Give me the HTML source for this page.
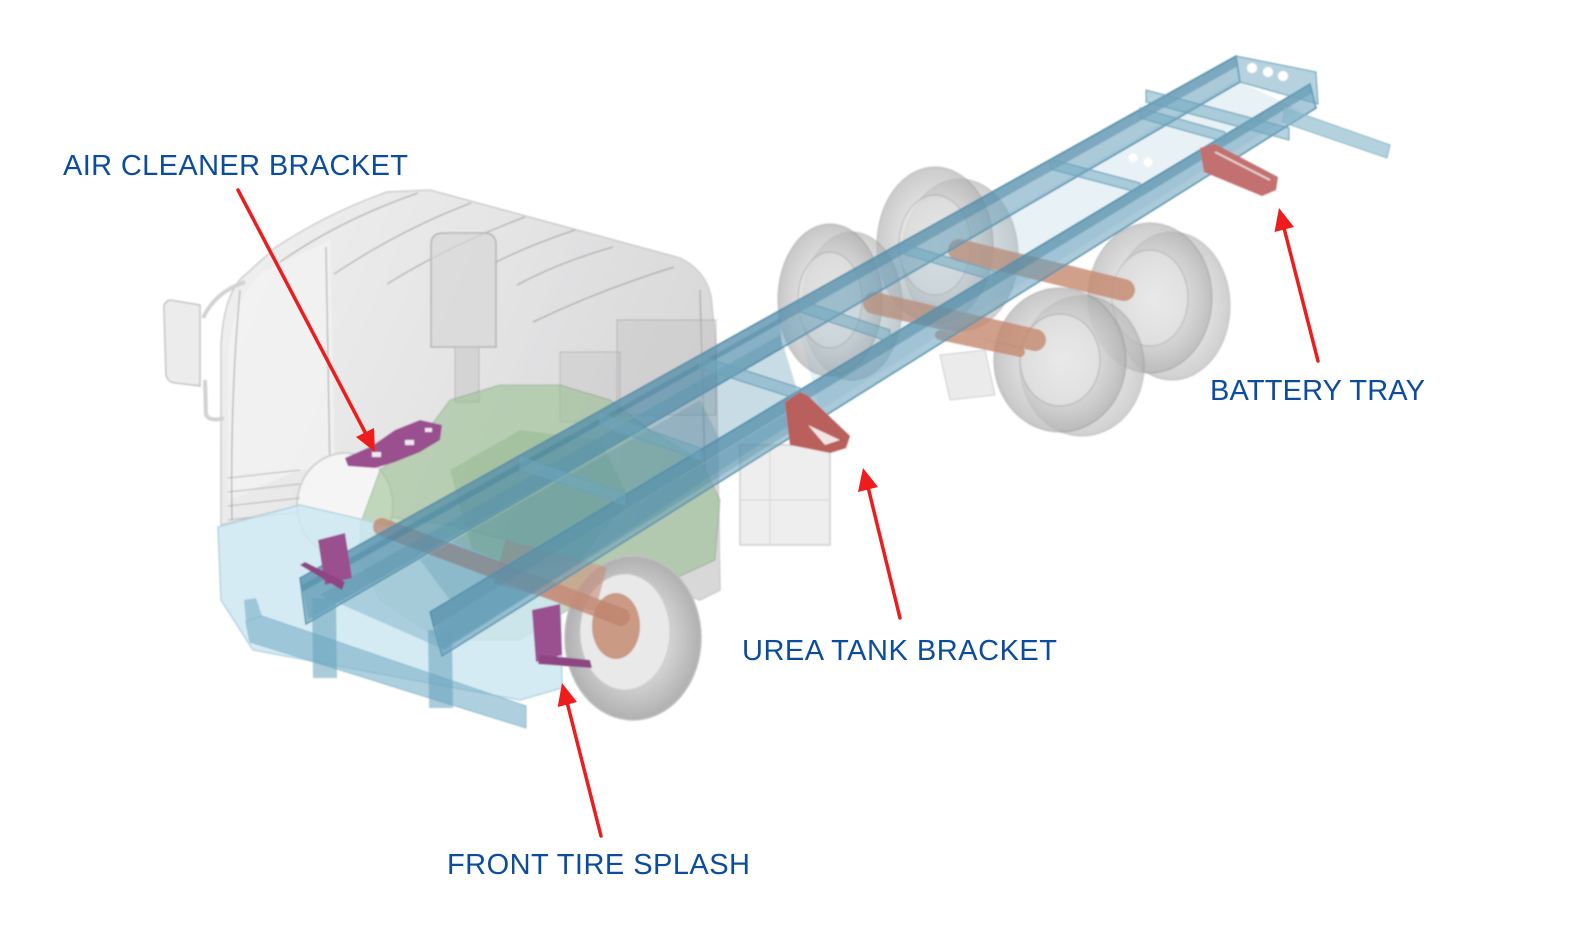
<!DOCTYPE html>
<html><head><meta charset="utf-8"><style>
html,body{margin:0;padding:0;background:#fff;}
svg{display:block}
.lbl{font-family:"Liberation Sans",sans-serif;font-size:29px;fill:#0b4c9e;}
</style></head><body>
<svg width="1574" height="928" viewBox="0 0 1574 928" xmlns="http://www.w3.org/2000/svg">
<defs>
<linearGradient id="cab" x1="0" y1="0" x2="1" y2="0.35">
 <stop offset="0" stop-color="#f0f0f0"/><stop offset="0.55" stop-color="#e4e4e5"/><stop offset="1" stop-color="#d8d8d9"/>
</linearGradient>
<radialGradient id="wh" cx="0.5" cy="0.5" r="0.5">
 <stop offset="0" stop-color="#e8e8e8"/><stop offset="0.55" stop-color="#d2d2d2"/><stop offset="1" stop-color="#b0b0b0"/>
</radialGradient>
<filter id="soft"><feGaussianBlur stdDeviation="0.8"/></filter>
</defs>
<rect width="1574" height="928" fill="#fff"/>

<g filter="url(#soft)">
<!-- rear wheels -->
<g stroke="rgba(130,130,130,0.5)" stroke-width="1.5">
 <ellipse cx="960" cy="255" rx="58" ry="76" fill="url(#wh)" opacity="0.6"/>
 <ellipse cx="935" cy="245" rx="58" ry="78" fill="url(#wh)" opacity="0.65"/>
 <ellipse cx="935" cy="245" rx="36" ry="50" fill="#e6e6e6" opacity="0.5"/>
 <ellipse cx="1172" cy="306" rx="58" ry="74" fill="url(#wh)" opacity="0.6"/>
 <ellipse cx="1150" cy="298" rx="62" ry="75" fill="url(#wh)" opacity="0.65"/>
 <ellipse cx="1150" cy="298" rx="38" ry="48" fill="#e9e9e9" opacity="0.5"/>
 <ellipse cx="852" cy="306" rx="50" ry="74" fill="url(#wh)" opacity="0.6"/>
 <ellipse cx="830" cy="300" rx="52" ry="76" fill="url(#wh)" opacity="0.7"/>
 <ellipse cx="830" cy="300" rx="32" ry="48" fill="#e3e3e3" opacity="0.55"/>
 <ellipse cx="1082" cy="366" rx="62" ry="70" fill="url(#wh)" opacity="0.6"/>
 <ellipse cx="1060" cy="360" rx="66" ry="72" fill="url(#wh)" opacity="0.7"/>
 <ellipse cx="1060" cy="360" rx="40" ry="46" fill="#e9e9e9" opacity="0.55"/>
</g>
<!-- rear suspension -->
<path d="M940,355 L985,350 L995,395 L950,400 Z" fill="rgba(230,230,230,0.8)" stroke="#cfcfcf"/>
<!-- rear axles copper -->
<g stroke="rgba(196,136,110,0.8)" stroke-linecap="round" fill="none">
 <line x1="959" y1="250" x2="1124" y2="290" stroke-width="22"/>
 <line x1="874" y1="303" x2="1035" y2="340" stroke-width="22"/>
 <line x1="940" y1="335" x2="1020" y2="352" stroke-width="10"/>
</g>

<!-- cab body -->
<path d="M221,525 L221,345 Q224,292 245,275 L276,247 Q330,212 387,192 L430,190 L680,258 Q705,270 711,296 L716,345 L720,590 L700,600 L600,565 L450,525 L300,505 Z" fill="url(#cab)" stroke="#cdcdcd" stroke-width="1.5"/>
<path d="M228,350 Q232,300 262,272 L330,240 L335,470 L300,470 L228,500 Z" fill="#f3f3f3" opacity="0.7"/>
<g stroke="rgba(110,110,110,0.45)" stroke-width="1.3" fill="none">
 <path d="M280,262 Q340,220 418,193"/>
 <path d="M334,274 Q400,230 471,203"/>
 <path d="M387,284 Q450,245 525,217"/>
 <path d="M494,263 Q530,245 575,230"/>
 <path d="M517,285 Q560,262 613,247"/>
 <path d="M533,322 Q600,290 674,267"/>
 <path d="M326,247 L330,473"/>
 <path d="M240,290 Q230,400 232,520"/>
 <path d="M700,290 L705,470"/>
</g>
<path d="M431,245 Q431,233 443,233 L484,233 Q496,233 496,245 L496,347 L431,347 Z" fill="rgba(215,215,215,0.7)" stroke="#b4b4b4" stroke-width="1.5"/>
<rect x="455" y="347" width="24" height="55" fill="rgba(205,205,205,0.7)" stroke="#bbb"/>
<rect x="617" y="320" width="99" height="95" fill="rgba(190,190,190,0.35)" stroke="rgba(140,140,140,0.45)"/>
<rect x="560" y="352" width="60" height="70" fill="rgba(190,190,190,0.3)" stroke="rgba(140,140,140,0.4)"/>
<!-- mirror -->
<path d="M203,318 Q215,292 245,282" stroke="#d2d2d2" stroke-width="4" fill="none"/>
<path d="M205,380 L206,415 Q210,422 224,418" stroke="#d2d2d2" stroke-width="4" fill="none"/>
<path d="M200,305 L170,300 Q163,302 164,310 L166,375 Q168,383 176,383 L200,386 Z" fill="#ececec" stroke="#c4c4c4" stroke-width="1.5"/>
<ellipse cx="345" cy="505" rx="48" ry="52" fill="#f5f5f5" stroke="#d2d2d2" stroke-width="2"/>
<g stroke="rgba(150,150,150,0.5)" stroke-width="1.2">
 <line x1="228" y1="478" x2="300" y2="470"/><line x1="228" y1="492" x2="300" y2="484"/>
 <line x1="228" y1="506" x2="300" y2="498"/><line x1="228" y1="520" x2="300" y2="512"/>
</g>
<!-- urea tank -->
<rect x="740" y="445" width="90" height="100" fill="#eeeeee" stroke="#cfcfcf" stroke-width="1.5"/>
<line x1="770" y1="445" x2="770" y2="545" stroke="#d6d6d6"/><line x1="740" y1="500" x2="830" y2="500" stroke="#d6d6d6"/>

<!-- green engine -->
<path d="M360,525 L380,470 L420,440 L450,400 L500,385 L560,385 L610,400 L650,430 L700,460 L720,500 L715,560 L650,590 L600,590 L560,615 L520,640 L440,640 L380,600 L360,560 Z" fill="rgba(150,190,140,0.55)" stroke="rgba(100,140,100,0.4)"/>
<path d="M450,470 L520,430 L600,440 L630,500 L580,560 L480,580 Z" fill="rgba(130,175,125,0.35)"/>

<!-- front wheel -->
<ellipse cx="633" cy="638" rx="68" ry="82" fill="url(#wh)" stroke="#c0c0c0" stroke-width="1.5"/>
<ellipse cx="625" cy="632" rx="45" ry="58" fill="#e9e9e9" stroke="#cccccc"/>
<ellipse cx="616" cy="626" rx="24" ry="33" fill="rgba(196,140,115,0.85)"/>

<!-- bumper -->
<path d="M218,527 L300,505 L450,540 L560,590 L562,688 L520,700 L253,650 L221,600 Z" fill="rgba(205,232,242,0.85)" stroke="#b6d4e0" stroke-width="1.5"/>

<!-- front axle copper -->
<line x1="382" y1="527" x2="621" y2="617" stroke="rgba(190,130,108,0.75)" stroke-width="18" stroke-linecap="round"/>
<rect x="498" y="553" width="105" height="45" fill="rgba(200,140,120,0.6)" transform="rotate(15 550 575)"/>

<!-- frame clutter between rails -->
<path d="M320,595 L780,335 L805,415 L445,650 Z" fill="rgba(80,145,175,0.32)"/>
<path d="M420,560 L700,400 L720,440 L450,600 Z" fill="rgba(60,125,155,0.22)"/>
<path d="M800,335 L1236,80 L1300,110 L820,410 Z" fill="rgba(130,180,200,0.18)"/>

<!-- rails -->
<g stroke="#5a93ad" stroke-width="1.5">
 <path d="M300,578 L1236,56 L1240,82 L306,624 Z" fill="rgba(100,158,186,0.55)"/>
 <path d="M300,578 L1236,56 L1238,66 L302,592 Z" fill="rgba(70,130,160,0.45)" stroke="none"/>
 <path d="M430,612 L1310,84 L1316,108 L442,656 Z" fill="rgba(100,158,186,0.55)"/>
 <path d="M430,612 L1310,84 L1312,93 L433,627 Z" fill="rgba(70,130,160,0.45)" stroke="none"/>
</g>
<!-- darker front rail section -->
<path d="M302,585 L780,318 L782,348 L308,620 Z" fill="rgba(55,120,150,0.3)"/>
<path d="M436,625 L800,405 L802,425 L442,650 Z" fill="rgba(55,120,150,0.25)"/>
<!-- crossmembers -->
<g fill="rgba(110,165,190,0.5)" stroke="#6aa0b8" stroke-width="1">
 <path d="M1236,56 L1316,72 L1318,104 L1240,82 Z"/>
 <path d="M1140,108 L1225,132 L1225,142 L1140,118 Z"/>
 <path d="M1050,159 L1140,183 L1140,193 L1050,169 Z"/>
 <path d="M900,243 L995,271 L995,281 L900,253 Z"/>
 <path d="M800,300 L890,330 L890,342 L800,312 Z"/>
 <path d="M700,356 L800,388 L800,400 L700,368 Z"/>
 <path d="M600,413 L700,448 L700,460 L600,425 Z"/>
 <path d="M520,457 L625,493 L625,505 L520,469 Z"/>
 <path d="M1146,90 L1289,128 L1289,140 L1146,102 Z"/>
</g>
<!-- rear overhang bar -->
<path d="M1285,108 L1390,145 L1387,158 L1282,122 Z" fill="rgba(130,180,200,0.6)" stroke="#8cb7c9"/>
<g fill="#fff">
 <circle cx="1252" cy="68" r="5"/><circle cx="1268" cy="72" r="5"/><circle cx="1283" cy="76" r="5"/>
 <circle cx="1133" cy="158" r="4.5"/><circle cx="1148" cy="162" r="4.5"/>
</g>

<!-- lower bar & posts -->
<path d="M246,622 L262,616 L526,706 L526,728 L250,642 Z" fill="rgba(120,175,200,0.6)" stroke="#8fbdd0"/>
<path d="M246,622 L244,600 L256,598 L262,616 Z" fill="rgba(120,175,200,0.6)"/>
<path d="M312,598 L336,598 L337,678 L313,678 Z" fill="rgba(100,160,185,0.55)"/>
<path d="M428,630 L452,630 L453,708 L429,708 Z" fill="rgba(100,160,185,0.55)"/>

<!-- purple brackets -->
<path d="M345,458 L372,446 L395,430 L420,420 L442,425 L440,440 L420,452 L395,462 L375,468 L348,466 Z" fill="#9a4f8f"/>
<g fill="#f2e6f0"><rect x="372" y="452" width="9" height="5"/><rect x="405" y="440" width="9" height="5"/><rect x="425" y="428" width="7" height="4"/></g>
<path d="M318,540 L345,533 L352,578 L325,585 Z" fill="#9a4f8f"/>
<path d="M300,565 L305,562 L345,582 L342,590 Z" fill="#8e4482"/>
<path d="M532,610 L560,604 L562,655 L536,662 Z" fill="#9a4f8f"/>
<path d="M540,655 L590,660 L592,668 L538,664 Z" fill="#8e4482"/>

<!-- red brackets -->
<path d="M785,402 L800,392 L808,396 L850,436 L846,448 L830,453 L790,445 Z" fill="#b95f5c"/>
<path d="M808,425 L840,440 L825,445 Z" fill="#f3e4e4"/>
<path d="M1200,148 L1215,144 L1278,177 L1276,190 L1262,196 L1204,172 Z" fill="#c27070"/>
<path d="M1215,152 L1270,180" stroke="#e8d2d2" stroke-width="2"/>
</g>

<!-- arrows -->
<g stroke="#ee1c1c" stroke-width="3.5" fill="none" stroke-linecap="round">
 <line x1="238" y1="190" x2="366" y2="434"/>
 <line x1="1318" y1="361" x2="1284" y2="228"/>
 <line x1="900" y1="618" x2="868" y2="487"/>
 <line x1="601" y1="836" x2="567" y2="702"/>
</g>
<g fill="#ee1c1c">
 <polygon points="375,452 356,437 374,428"/>
 <polygon points="1279,208 1294,227 1274.5,232"/>
 <polygon points="863,468 878,487 858,492"/>
 <polygon points="562,683 577,702 557.7,707"/>
</g>

<!-- labels -->
<text class="lbl" x="63" y="175" textLength="345" lengthAdjust="spacing">AIR CLEANER BRACKET</text>
<text class="lbl" x="1210" y="400" textLength="215" lengthAdjust="spacing">BATTERY TRAY</text>
<text class="lbl" x="742" y="660" textLength="315" lengthAdjust="spacing">UREA TANK BRACKET</text>
<text class="lbl" x="447" y="874" textLength="303" lengthAdjust="spacing">FRONT TIRE SPLASH</text>
</svg>
</body></html>
